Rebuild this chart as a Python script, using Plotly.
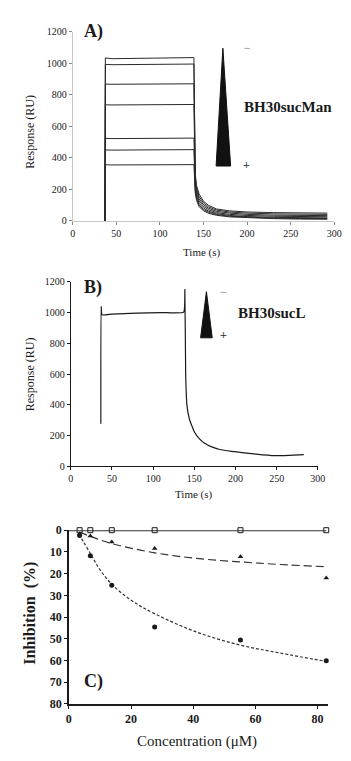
import plotly.graph_objects as go

W, H = 351, 761
FONT = "Liberation Serif, Times New Roman, serif"
INK = "#1a1a1a"

# ---- Panel A: BH30sucMan sensorgrams (time in s, response in RU) ----
time_a = [37, 37.4, 45, 70, 100, 130, 139, 140.5, 142, 145, 150, 156, 165, 180, 200, 230, 260, 292]
resp_a = [
    [0, 1033, 1028, 1030, 1033, 1035, 1035, 300, 225, 170, 125, 98, 76, 64, 57, 53, 51, 50],
    [0, 992, 990, 990, 993, 994, 994, 280, 208, 155, 114, 89, 69, 57, 50, 45, 43, 42],
    [0, 867, 866, 867, 868, 869, 869, 260, 192, 140, 103, 80, 61, 50, 42, 37, 35, 34],
    [0, 736, 735, 736, 737, 738, 738, 240, 174, 126, 92, 71, 53, 42, 35, 30, 28, 27],
    [0, 523, 522, 523, 524, 525, 525, 220, 158, 112, 81, 62, 46, 35, 28, 23, 21, 20],
    [0, 450, 449, 450, 451, 452, 452, 200, 144, 100, 72, 55, 41, 30, 24, 18, 16, 15],
    [0, 356, 355, 356, 357, 357, 357, 180, 130, 90, 65, 48, 36, 26, 20, 15, 12, 11],
]

# ---- Panel B: BH30sucL sensorgram ----
time_b = [36.5, 36.8, 38, 50, 80, 110, 137, 138.5, 139.5, 141, 144, 150, 156, 162, 172,
          181, 195, 208, 225, 247, 265, 283]
resp_b = [277, 1040, 985, 990, 996, 1000, 1003, 1150, 600, 400, 308, 225, 180, 152, 125,
          110, 98, 90, 80, 70, 72, 76]

# ---- Panel C: inhibition vs concentration ----
conc = [3.45, 6.9, 13.8, 27.6, 55.2, 82.8]
inhib_open = [0, 0, 0, 0, 0, 0]
inhib_tri = [1.7, 2.7, 5.4, 8.4, 12.2, 22.0]
inhib_dot = [2.4, 11.8, 25.3, 44.6, 50.6, 60.1]

fit_flat_x = [0, 82.8]
fit_flat_y = [0, 0]
fit_tri_x = [3.4, 6.9, 13.9, 27.6, 41.1, 55.1, 68.1, 82.6]
fit_tri_y = [0.9, 2.8, 6.2, 10.4, 13.0, 14.6, 15.8, 16.8]
fit_dot_x = [3.2, 6.9, 10, 13.9, 20.3, 27.8, 41.1, 55.1, 68.1, 82.7]
fit_dot_y = [1.7, 10.7, 18.2, 25.0, 32.5, 38.6, 46.9, 52.9, 56.6, 60.4]

ticks_time = [0, 50, 100, 150, 200, 250, 300]
ticks_resp = [0, 200, 400, 600, 800, 1000, 1200]
ticks_conc = [0, 20, 40, 60, 80]
ticks_inhib = [0, 10, 20, 30, 40, 50, 60, 70, 80]


def px(x):
    return x / W


def py(y):
    return 1 - y / H


fig = go.Figure()

for r in resp_a:
    fig.add_trace(go.Scatter(x=time_a, y=r, mode="lines", xaxis="x", yaxis="y",
                             line=dict(color="#2a2a2a", width=1), showlegend=False))

fig.add_trace(go.Scatter(x=time_b, y=resp_b, mode="lines", xaxis="x2", yaxis="y2",
                         line=dict(color=INK, width=1.2, shape="spline", smoothing=0.4),
                         showlegend=False))

fig.add_trace(go.Scatter(x=fit_flat_x, y=fit_flat_y, mode="lines", xaxis="x3", yaxis="y3",
                         line=dict(color="#333", width=2.2), showlegend=False))
fig.add_trace(go.Scatter(x=fit_tri_x, y=fit_tri_y, mode="lines", xaxis="x3", yaxis="y3",
                         line=dict(color="#333", width=1.2, dash="8px,4px", shape="spline"),
                         showlegend=False))
fig.add_trace(go.Scatter(x=fit_dot_x, y=fit_dot_y, mode="lines", xaxis="x3", yaxis="y3",
                         line=dict(color="#333", width=1.2, dash="3px,2px", shape="spline"),
                         showlegend=False))
fig.add_trace(go.Scatter(x=conc, y=inhib_open, mode="markers", xaxis="x3", yaxis="y3",
                         marker=dict(symbol="square-open", size=5, color=INK,
                                     line=dict(width=1)),
                         cliponaxis=False, showlegend=False))
fig.add_trace(go.Scatter(x=conc, y=inhib_tri, mode="markers", xaxis="x3", yaxis="y3",
                         marker=dict(symbol="triangle-up", size=5, color=INK),
                         cliponaxis=False, showlegend=False))
fig.add_trace(go.Scatter(x=conc, y=inhib_dot, mode="markers", xaxis="x3", yaxis="y3",
                         marker=dict(symbol="circle", size=5, color=INK),
                         cliponaxis=False, showlegend=False))

small = dict(family=FONT, size=10, color=INK)
bold = dict(family=FONT, size=12, color=INK, weight="bold")

axis_ab = dict(showgrid=False, zeroline=False, ticks="outside", ticklen=3, tickwidth=1,
               tickfont=small, showline=True, linewidth=1)

fig.update_layout(
    width=W, height=H,
    margin=dict(l=0, r=0, t=0, b=0),
    font=dict(family=FONT, color=INK),
    paper_bgcolor="white", plot_bgcolor="white",
    xaxis=dict(axis_ab, domain=[px(72), px(342)], range=[0, 300], tickvals=ticks_time,
               anchor="y", linecolor="#c8c8c8", tickcolor="#888"),
    yaxis=dict(axis_ab, domain=[py(218), py(25)], range=[0, 1200], tickvals=ticks_resp,
               anchor="x", linecolor="#c8c8c8", tickcolor="#888"),
    xaxis2=dict(axis_ab, domain=[px(70), px(325)], range=[0, 300], tickvals=ticks_time,
                anchor="y2", linecolor=INK, tickcolor=INK),
    yaxis2=dict(axis_ab, domain=[py(468), py(280)], range=[0, 1200], tickvals=ticks_resp,
                anchor="x2", linecolor=INK, tickcolor=INK),
    xaxis3=dict(showgrid=False, zeroline=False, ticks="outside", ticklen=3, tickwidth=1,
                tickfont=bold, showline=True, linewidth=1.5, linecolor=INK, tickcolor=INK,
                domain=[px(68), px(335)], range=[0, 83.2], tickvals=ticks_conc, anchor="y3"),
    yaxis3=dict(showgrid=False, zeroline=False, ticks="outside", ticklen=3, tickwidth=1,
                tickfont=bold, showline=True, linewidth=1.5, linecolor=INK, tickcolor=INK,
                domain=[py(710), py(533)], range=[80, 0], tickvals=ticks_inhib, anchor="x3"),
)


def label(text, x, y, size, weight="normal", angle=0, color=INK):
    fig.add_annotation(text=text, x=px(x), y=py(y), xref="paper", yref="paper",
                       xanchor="center", yanchor="middle", showarrow=False, textangle=angle,
                       font=dict(family=FONT, size=size, color=color, weight=weight))


# panel letters
label("A)", 93, 25, 18, "bold")
label("B)", 93, 286, 18, "bold")
label("C)", 93, 687, 18, "bold")

# axis titles
label("Response (RU)", 28, 127, 12, angle=-90)
label("Time (s)", 205, 250, 11)
label("Response (RU)", 28, 374, 12, angle=-90)
label("Time (s)", 197, 497, 11)
label("Inhibition  (%)", 27, 618, 16, "bold", angle=-90)
label("Concentration (\u03bcM)", 200, 748, 15)

# concentration wedges with compound names
for apex, base_y, base_l, base_r in [((227, 42), 162, 220, 235), ((210, 290), 337, 204, 216)]:
    path = (f"M {px(apex[0])},{py(apex[1])} L {px(base_r)},{py(base_y)} "
            f"L {px(base_l)},{py(base_y)} Z")
    fig.add_shape(type="path", path=path, xref="paper", yref="paper",
                  fillcolor="#111", line=dict(color="#111", width=1))

label("\u2212", 252, 42, 12, color="#777")
label("+", 251, 161, 12, "bold", color="#444")
label("BH30sucMan", 294, 102, 15, "bold")
label("\u2212", 228, 290, 12, color="#777")
label("+", 228, 334, 12, "bold", color="#444")
label("BH30sucL", 278, 312, 15, "bold")

fig.write_html("out.html")
